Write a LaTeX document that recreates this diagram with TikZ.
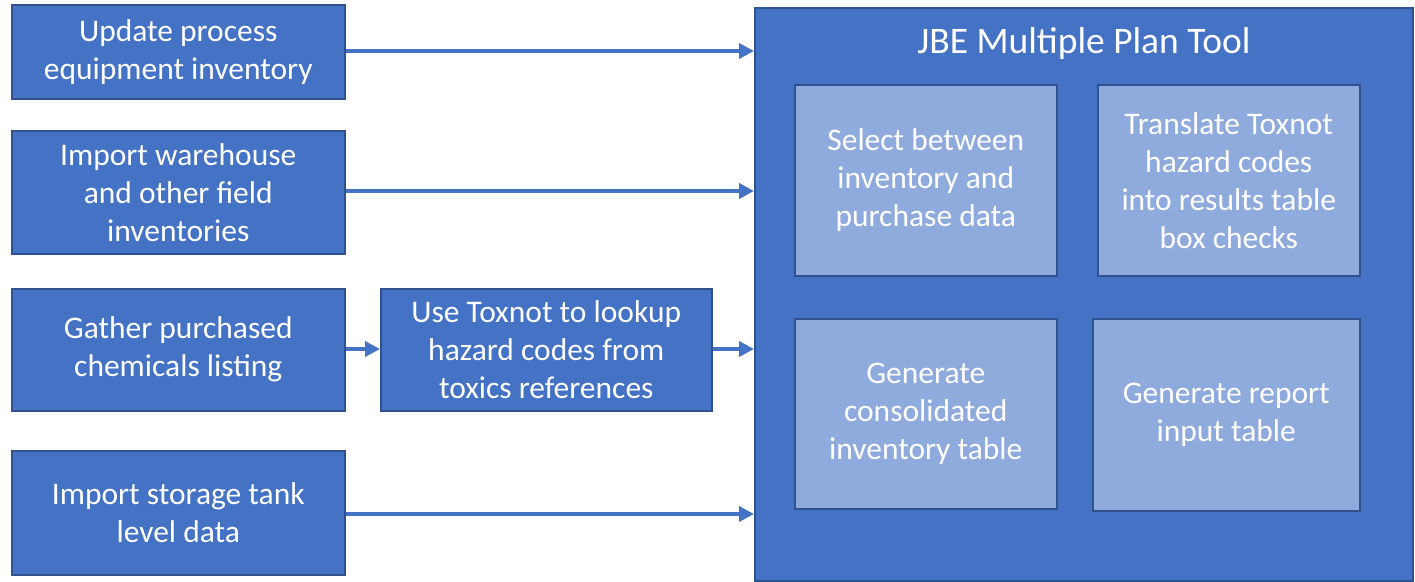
\documentclass[tikz,border=0pt]{standalone}
\usepackage{fontspec}
\setmainfont{Carlito}
\usetikzlibrary{arrows.meta}
\definecolor{boxblue}{HTML}{4472C4}
\definecolor{edgeblue}{HTML}{2F528F}
\definecolor{lightblue}{HTML}{8FAADC}
\tikzset{
  px/.style={x=1pt,y=-1pt},
  box/.style={draw=edgeblue,line width=1.5pt,fill=boxblue,text=white,align=center,
    font=\fontsize{31.5}{38}\selectfont,inner sep=0pt},
  inner/.style={draw=edgeblue,line width=1.5pt,fill=lightblue,text=white,align=center,
    font=\fontsize{31.5}{38}\selectfont,inner sep=0pt},
  arr/.style={draw=boxblue,line width=3.8pt,-{Triangle[length=15pt,width=15pt]}}
}
\begin{document}
\begin{tikzpicture}[px]
\useasboundingbox (0,0) rectangle (1415,581);
% left boxes
\node[box,minimum width=333pt,minimum height=94pt,anchor=north west] (b1) at (11,4) {Update process\\equipment inventory};
\node[box,minimum width=333pt,minimum height=123pt,anchor=north west] (b2) at (11,130) {Import warehouse\\and other field\\inventories};
\node[box,minimum width=333pt,minimum height=122pt,anchor=north west] (b3) at (11,288) {Gather purchased\\chemicals listing};
\node[box,minimum width=333pt,minimum height=124pt,anchor=north west] (b4) at (11,450) {Import storage tank\\level data};
\node[box,minimum width=331pt,minimum height=122pt,anchor=north west] (b5) at (380,288) {Use Toxnot to lookup\\hazard codes from\\toxics references};
% big box
\node[box,minimum width=658pt,minimum height=573pt,anchor=north west] (big) at (754,7) {};
\node[text=white,font=\fontsize{37.5}{44}\selectfont,anchor=base] (title) at (1084,53) {JBE Multiple Plan Tool};
% inner boxes
\node[inner,minimum width=262pt,minimum height=191pt,anchor=north west] (i1) at (794,84) {Select between\\inventory and\\purchase data};
\node[inner,minimum width=262pt,minimum height=191pt,anchor=north west] (i2) at (1097,84) {Translate Toxnot\\hazard codes\\into results table\\box checks};
\node[inner,minimum width=262pt,minimum height=190pt,anchor=north west] (i3) at (794,318) {Generate\\consolidated\\inventory table};
\node[inner,minimum width=267pt,minimum height=192pt,anchor=north west] (i4) at (1092,318) {Generate report\\input table};
% arrows
\coordinate (e1) at (754,51);
\coordinate (e2) at (754,191);
\coordinate (e3) at (754,349);
\coordinate (e4) at (754,514);
\draw[arr] (b1.east |- e1) -- (e1);
\draw[arr] (b2.east |- e2) -- (e2);
\draw[arr] (b3.east |- e3) -- (b5.west |- e3);
\draw[arr] (b5.east |- e3) -- (e3);
\draw[arr] (b4.east |- e4) -- (e4);
\end{tikzpicture}
\end{document}
